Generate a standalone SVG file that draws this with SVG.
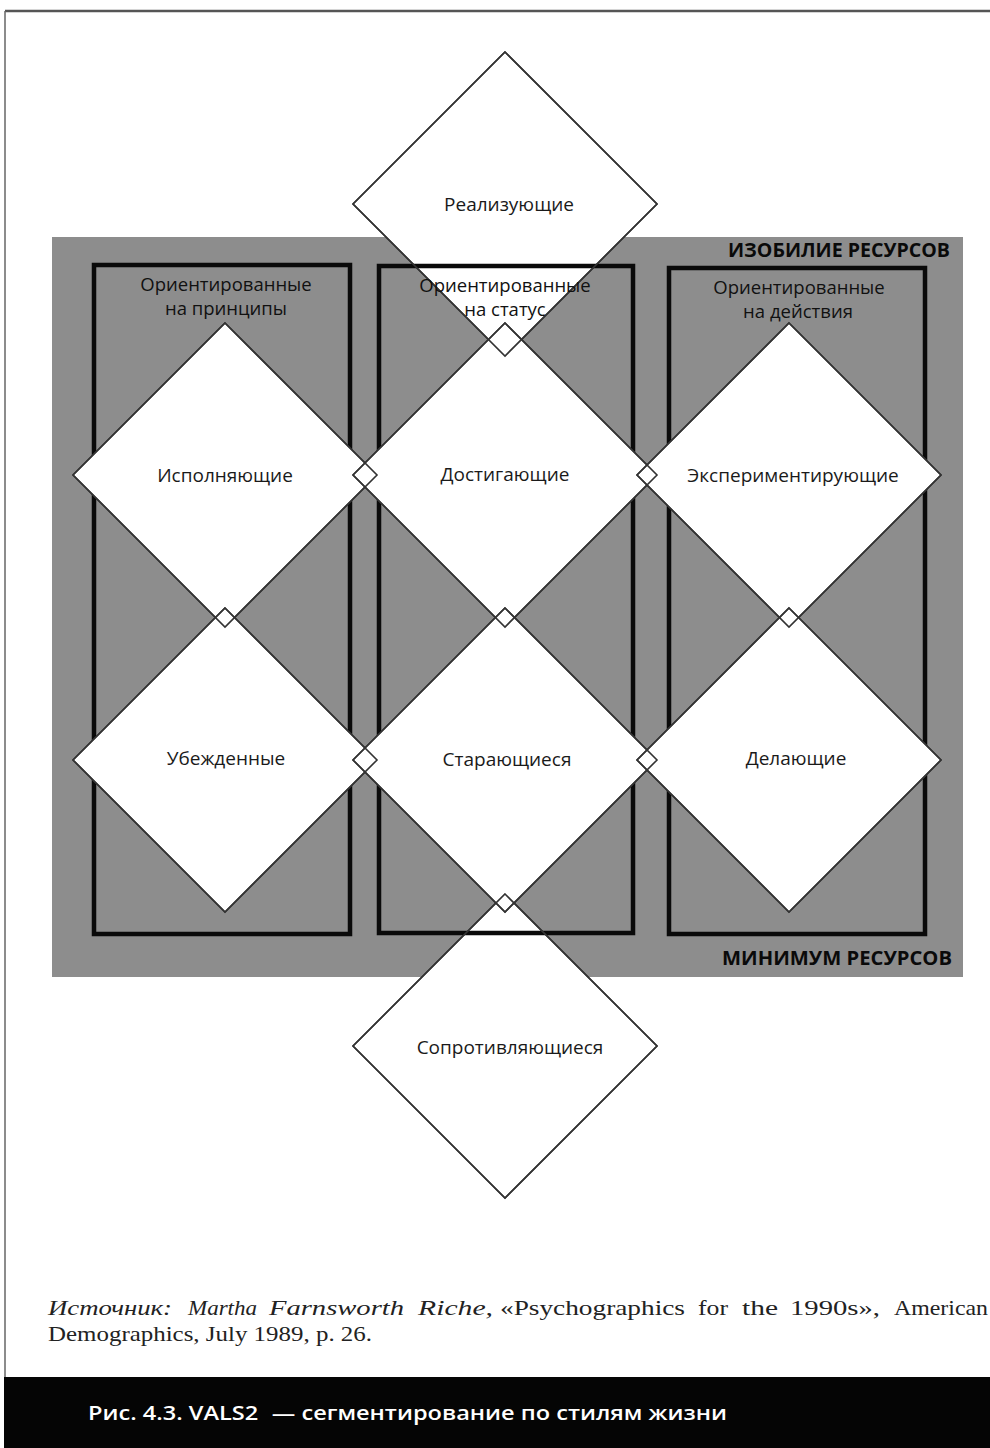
<svg xmlns="http://www.w3.org/2000/svg" width="990" height="1448" viewBox="0 0 990 1448">
<style>
.dia{fill:#fff;stroke:#333;stroke-width:1.5}
.ol{fill:none;stroke:#333;stroke-width:1.6}
.col{fill:none;stroke:#0a0a0a;stroke-width:4.5}
.lbl{font-family:"Open Sans","Noto Sans",sans-serif;font-size:19px;fill:#1a1a1a;text-anchor:middle}
.hdr{font-family:"Open Sans","Noto Sans",sans-serif;font-size:18.5px;fill:#111;text-anchor:middle}
.res{font-family:"Open Sans","Noto Sans",sans-serif;font-size:19px;font-weight:bold;fill:#0a0a0a}
.src{font-family:"Liberation Serif",serif;font-size:22px;fill:#222}
.it{font-style:italic}
.cap{font-family:"Open Sans","Noto Sans",sans-serif;font-size:19px;fill:#fff;font-weight:600}
</style>
<defs>
<polygon id="d" points="0,-152 152,0 0,152 -152,0"/>
</defs>
<rect x="0" y="0" width="990" height="1448" fill="#fff"/>
<g id="frame">
<line x1="5" y1="11" x2="990" y2="11" stroke="#555" stroke-width="2.5"/>
<line x1="5" y1="11" x2="5" y2="1378" stroke="#666" stroke-width="1.5"/>
</g>
<g id="resources-field">
<rect x="52" y="237" width="911" height="740" fill="#8d8d8d"/>
</g>
<g id="node-realizing">
<use href="#d" x="505" y="204" class="dia"/>
<text class="lbl" x="509" y="211">Реализующие</text>
</g>
<g id="node-resisting">
<use href="#d" x="505" y="1046" class="dia"/>
<text class="lbl" x="510" y="1054">Сопротивляющиеся</text>
</g>
<g id="columns">
<rect class="col" x="94" y="265" width="256" height="669"/>
<rect class="col" x="379" y="266" width="254" height="667"/>
<rect class="col" x="669" y="268" width="256" height="666"/>
</g>
<g id="node-fulfilled">
<use href="#d" x="225" y="475" class="dia"/>
<text class="lbl" x="225" y="482">Исполняющие</text>
</g>
<g id="node-achievers">
<use href="#d" x="505" y="475" class="dia"/>
<text class="lbl" x="505" y="481">Достигающие</text>
</g>
<g id="node-experiencers">
<use href="#d" x="789" y="475" class="dia"/>
<text class="lbl" x="793" y="482">Экспериментирующие</text>
</g>
<g id="node-believers">
<use href="#d" x="225" y="760" class="dia"/>
<text class="lbl" x="226" y="765">Убежденные</text>
</g>
<g id="node-strivers">
<use href="#d" x="505" y="760" class="dia"/>
<text class="lbl" x="507" y="766">Старающиеся</text>
</g>
<g id="node-makers">
<use href="#d" x="789" y="760" class="dia"/>
<text class="lbl" x="796" y="765">Делающие</text>
</g>
<g id="connectors">
<use href="#d" x="505" y="204" class="ol"/>
<use href="#d" x="505" y="1046" class="ol"/>
<use href="#d" x="225" y="475" class="ol"/>
<use href="#d" x="505" y="475" class="ol"/>
<use href="#d" x="789" y="475" class="ol"/>
<use href="#d" x="225" y="760" class="ol"/>
<use href="#d" x="505" y="760" class="ol"/>
<use href="#d" x="789" y="760" class="ol"/>
</g>
<g id="headers">
<text class="hdr" x="226" y="291">Ориентированные</text>
<text class="hdr" x="226" y="315">на принципы</text>
<text class="hdr" x="505" y="292">Ориентированные</text>
<text class="hdr" x="505" y="316">на статус</text>
<text class="hdr" x="799" y="294">Ориентированные</text>
<text class="hdr" x="798" y="318">на действия</text>
<text class="res" x="728" y="257" textLength="222" lengthAdjust="spacingAndGlyphs">ИЗОБИЛИЕ РЕСУРСОВ</text>
<text class="res" x="722" y="965" textLength="230" lengthAdjust="spacingAndGlyphs">МИНИМУМ РЕСУРСОВ</text>
</g>
<g id="source">
<text class="src it" x="48" y="1315" textLength="124" lengthAdjust="spacingAndGlyphs">Источник:</text>
<text class="src it" x="188" y="1315" textLength="69" lengthAdjust="spacingAndGlyphs">Martha</text>
<text class="src it" x="269" y="1315" textLength="135" lengthAdjust="spacingAndGlyphs">Farnsworth</text>
<text class="src it" x="418" y="1315" textLength="75" lengthAdjust="spacingAndGlyphs">Riche,</text>
<text class="src" x="500" y="1315" textLength="185" lengthAdjust="spacingAndGlyphs">«Psychographics</text>
<text class="src" x="698" y="1315" textLength="30" lengthAdjust="spacingAndGlyphs">for</text>
<text class="src" x="742" y="1315" textLength="36" lengthAdjust="spacingAndGlyphs">the</text>
<text class="src" x="790" y="1315" textLength="90" lengthAdjust="spacingAndGlyphs">1990s»,</text>
<text class="src" x="894" y="1315" textLength="94" lengthAdjust="spacingAndGlyphs">American</text>
<text class="src" x="48" y="1341" textLength="324" lengthAdjust="spacingAndGlyphs">Demographics, July 1989, p. 26.</text>
</g>
<g id="caption">
<rect x="4" y="1377" width="986" height="71" fill="#050505"/>
<text class="cap" x="88" y="1420" textLength="639" lengthAdjust="spacingAndGlyphs">Рис. 4.3. VALS2 <tspan dx="6">— сегментирование по стилям жизни</tspan></text>
</g>
</svg>
